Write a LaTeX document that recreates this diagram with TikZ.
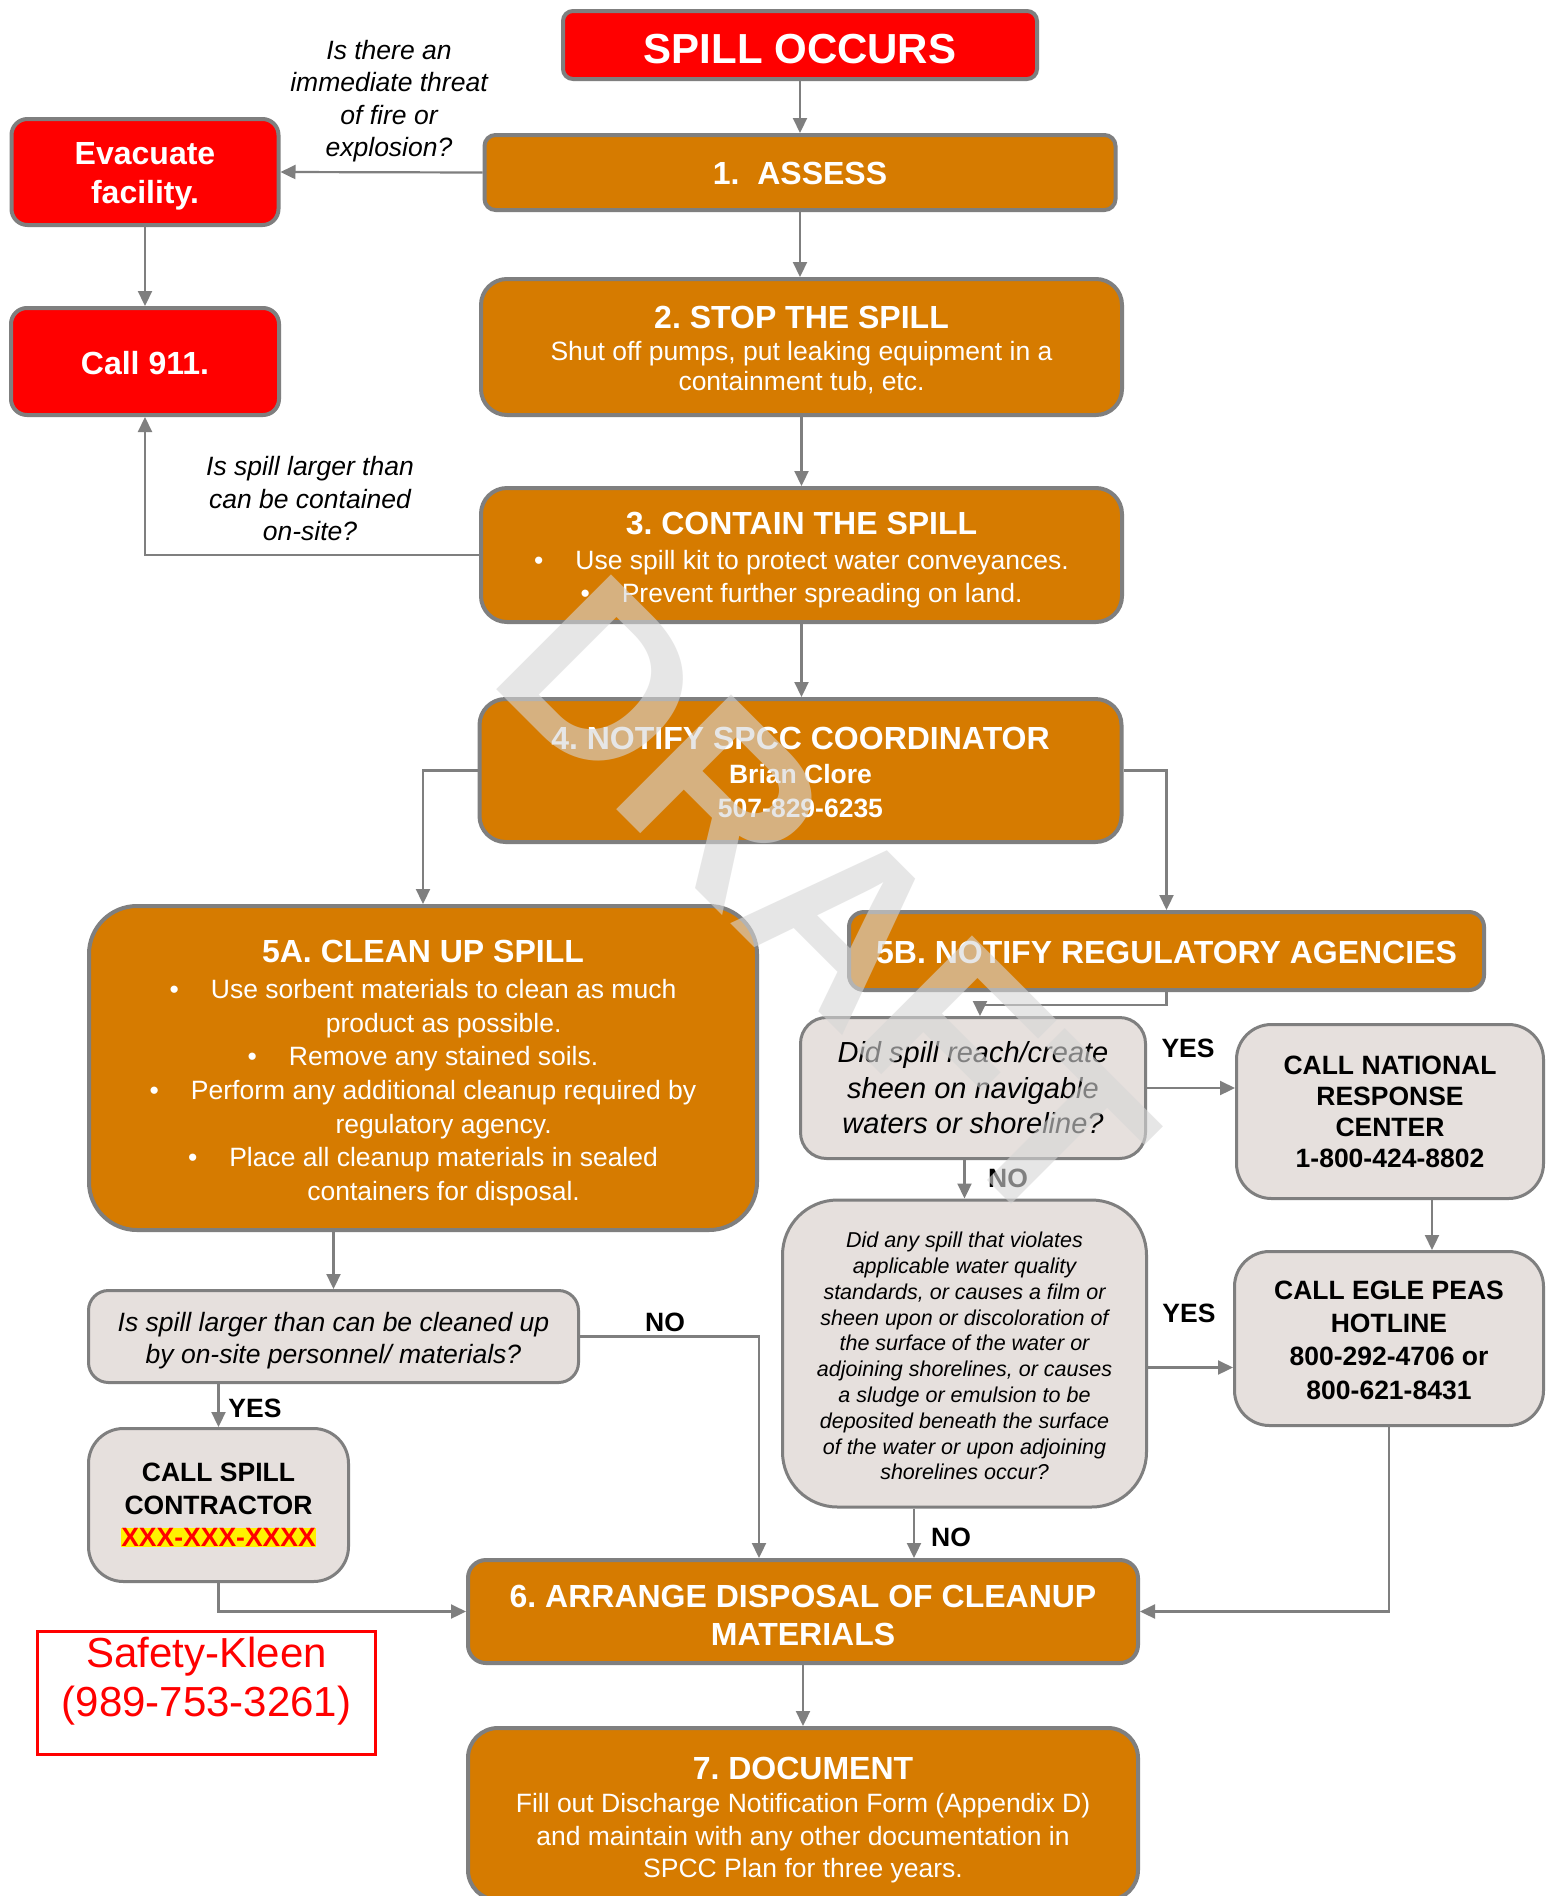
\documentclass[tikz,border=0pt]{standalone}
\usepackage{fontspec}
\setmainfont{Liberation Sans}
\usetikzlibrary{arrows.meta,calc}
\definecolor{orng}{RGB}{214,123,0}
\definecolor{redb}{RGB}{255,0,0}
\definecolor{boxgray}{RGB}{230,224,221}
\definecolor{edge}{RGB}{127,127,127}
\definecolor{wm}{RGB}{214,214,214}
\newcommand{\fs}[2]{\fontsize{#1}{#2}\selectfont}
\newcommand{\bl}[1]{\textbullet\hspace{32pt}#1}
\newcommand{\nb}[1]{\hphantom{\textbullet\hspace{32pt}}#1}
\frenchspacing
\begin{document}
\frenchspacing
\begin{tikzpicture}[x=1pt,y=-1pt,
  obox/.style={draw=edge, line width=4pt, fill=orng, inner sep=0pt},
  rbox/.style={draw=edge, line width=4pt, fill=redb, inner sep=0pt},
  gbox/.style={draw=edge, line width=3pt, fill=boxgray, inner sep=0pt},
  wtxt/.style={text=white, align=center, inner sep=0pt},
  ktxt/.style={text=black, align=center, inner sep=0pt},
  conn/.style={draw=edge, line width=2.2pt, -{Triangle[length=15pt,width=14pt]}},
  lbl/.style={align=center, inner sep=0pt, font=\itshape\fs{26.5}{32.5}},
  yn/.style={inner sep=0pt, font=\bfseries\fs{26.5}{30}},
]
\useasboundingbox (0,0) rectangle (1551,1896);
\fill[white] (0,0) rectangle (1551,1896);

% boxes
\node[rbox, minimum width=474pt, minimum height=68pt, rounded corners=10pt] (spill) at (800,45) {};
\node[wtxt, font=\bfseries\fs{42}{48}] (spill-t) at ($(spill)+(0,4)$) {SPILL OCCURS};

\node[obox, minimum width=631pt, minimum height=75pt, rounded corners=11pt] (assess) at (800,172.5) {};
\node[wtxt, font=\bfseries\fs{32}{38}] (assess-t) at ($(assess)+(0,1)$) {1.\ \ ASSESS};

\node[rbox, minimum width=267pt, minimum height=106pt, rounded corners=16pt] (evac) at (145,172) {};
\node[wtxt, font=\bfseries\fs{32}{39}] (evac-t) at ($(evac)+(0,4)$) {Evacuate\\facility.};

\node[rbox, minimum width=268pt, minimum height=107pt, rounded corners=16pt] (call911) at (145,361.5) {};
\node[wtxt, font=\bfseries\fs{32}{38}] (call911-t) at ($(call911)+(0,2)$) {Call 911.};

\node[obox, minimum width=641pt, minimum height=136pt, rounded corners=26pt] (stop) at (801.5,347) {};
\node[wtxt, font=\fs{26.5}{30}] (stop-t) at ($(stop)+(0,3)$)
  {{\bfseries\fs{32}{38}2. STOP THE SPILL}\\[2.5pt]
   Shut off pumps, put leaking equipment in a\\ containment tub, etc.};

\node[obox, minimum width=641pt, minimum height=134pt, rounded corners=26pt] (contain) at (801.5,555) {};
\node[wtxt, font=\fs{26.5}{33}] (contain-t) at ($(contain)+(0,5)$)
  {{\bfseries\fs{32}{38}3. CONTAIN THE SPILL}\\[2pt]
   \bl{Use spill kit to protect water conveyances.}\\
   \bl{Prevent further spreading on land.}};

\node[obox, minimum width=642pt, minimum height=143pt, rounded corners=26pt] (notify) at (800.5,770.5) {};
\node[wtxt, font=\bfseries\fs{26.5}{34}] (notify-t) at ($(notify)+(0,1.5)$)
  {{\fs{32}{38}4. NOTIFY SPCC COORDINATOR}\\
   Brian Clore\\ 507-829-6235};

\node[obox, minimum width=668pt, minimum height=324pt, rounded corners=48pt] (clean) at (423,1068) {};
\node[wtxt, font=\fs{26.5}{33.7}] (clean-t) at ($(clean)+(0,5)$)
  {{\bfseries\fs{32}{38}5A. CLEAN UP SPILL}\\[2.5pt]
   \bl{Use sorbent materials to clean as much}\\
   \nb{product as possible.}\\
   \bl{Remove any stained soils.}\\
   \bl{Perform any additional cleanup required by}\\
   \nb{regulatory agency.}\\
   \bl{Place all cleanup materials in sealed}\\
   \nb{containers for disposal.}};

\node[obox, minimum width=635pt, minimum height=78pt, rounded corners=15pt] (notreg) at (1166.5,951) {};
\node[wtxt, font=\bfseries\fs{32}{38}] (notreg-t) at ($(notreg)+(0,1)$) {5B. NOTIFY REGULATORY AGENCIES};

\node[gbox, minimum width=345pt, minimum height=141pt, rounded corners=26pt] (didspill) at (973,1088) {};
\node[ktxt, font=\itshape\fs{29}{35.5}] (didspill-t) at ($(didspill)+(0,0)$)
  {Did spill reach/create\\ sheen on navigable\\ waters or shoreline?};

\node[gbox, minimum width=307pt, minimum height=174pt, rounded corners=35pt] (national) at (1390,1111.5) {};
\node[ktxt, font=\bfseries\fs{26.5}{31}] (national-t) at ($(national)+(0,0.5)$)
  {CALL NATIONAL\\ RESPONSE\\ CENTER\\ 1-800-424-8802};

\node[gbox, minimum width=364pt, minimum height=307pt, rounded corners=55pt] (didany) at (964.5,1353.5) {};
\node[ktxt, font=\itshape\fs{21.5}{25.8}] (didany-t) at ($(didany)+(0,2.5)$)
  {Did any spill that violates\\ applicable water quality\\ standards, or causes a film or\\ sheen upon or discoloration of\\
   the surface of the water or\\ adjoining shorelines, or causes\\ a sludge or emulsion to be\\ deposited beneath the surface\\
   of the water or upon adjoining\\ shorelines occur?};

\node[gbox, minimum width=309pt, minimum height=174pt, rounded corners=35pt] (egle) at (1389,1338.5) {};
\node[ktxt, font=\bfseries\fs{26.5}{33.3}] (egle-t) at ($(egle)+(0,1.5)$)
  {CALL EGLE PEAS\\ HOTLINE\\ 800-292-4706 or\\ 800-621-8431};

\node[gbox, minimum width=490pt, minimum height=92pt, rounded corners=20pt] (isspill) at (333.5,1336.5) {};
\node[ktxt, font=\itshape\fs{26.5}{32.7}] (isspill-t) at ($(isspill)+(0,4)$)
  {Is spill larger than can be cleaned up\\ by on-site personnel/ materials?};

\node[gbox, minimum width=260pt, minimum height=153pt, rounded corners=35pt] (callspill) at (218.5,1505) {};
\node[ktxt, font=\bfseries\fs{26.5}{32.5}] (callspill-t) at ($(callspill)+(0,0)$)
  {CALL SPILL\\ CONTRACTOR\\ {\setlength{\fboxsep}{0.5pt}\colorbox{yellow}{\textcolor{redb}{XXX-XXX-XXXX}}}};

\node[draw=redb, line width=3pt, fill=white, minimum width=338pt, minimum height=123pt, inner sep=0pt] (sk) at (206.5,1693) {};
\node[text=redb, align=center, inner sep=0pt, font=\fs{42}{49}] (sk-t) at ($(sk)+(0,-11.5)$) {Safety-Kleen\\ (989-753-3261)};

\node[obox, minimum width=670pt, minimum height=103pt, rounded corners=18pt] (arrange) at (803,1611.5) {};
\node[wtxt, font=\bfseries\fs{32}{38}] (arrange-t) at ($(arrange)+(0,4)$)
  {6. ARRANGE DISPOSAL OF CLEANUP\\ MATERIALS};

\node[obox, minimum width=670pt, minimum height=172pt, rounded corners=30pt] (document) at (803,1814) {};
\node[wtxt, font=\fs{26.5}{32.5}] (document-t) at ($(document)+(0,6)$)
  {{\bfseries\fs{32}{38}7. DOCUMENT}\\[1pt]
   Fill out Discharge Notification Form (Appendix D)\\
   and maintain with any other documentation in\\
   SPCC Plan for three years.};

% helper coordinates
\coordinate (natout) at ([xshift=42pt]national.south);
\coordinate (anyout) at ([yshift=-14pt]didany.east);
\coordinate (arrin1) at ([xshift=-44pt]arrange.north);
\coordinate (arrin2) at ([xshift=111pt]arrange.north);
\coordinate (regin) at ([xshift=7pt]didspill.north);

% connectors
\draw[conn] (spill.south) -- (assess.north);
\draw[conn] (assess.west) -- (evac.east);
\draw[conn] (evac.south) -- (call911.north);
\draw[conn] (assess.south) -- (assess.south |- stop.north);
\draw[conn] (stop.south) -- (contain.north);
\draw[conn] (contain.west) -| (call911.south);
\draw[conn] (contain.south) -- (contain.south |- notify.north);
\draw[conn] (notify.west) -| (clean.north);
\draw[conn] (notify.east) -| (notreg.north);
\draw[conn] (notreg.south) -- ++(0,13) -| (regin);
\draw[conn] (didspill.east) -- (didspill.east -| national.west);
\draw[conn] (didany.north |- didspill.south) -- (didany.north);
\draw[conn] (natout) -- (natout |- egle.north);
\draw[conn] (anyout) -- (anyout -| egle.west);
\draw[conn] (egle.south) |- (arrange.east);
\draw[conn] (isspill.north |- clean.south) -- (isspill.north);
\draw[conn] (isspill.east) -| (arrin1);
\draw[conn] (callspill.north |- isspill.south) -- (callspill.north);
\draw[conn] (callspill.south) |- (arrange.west);
\draw[conn] (arrin2 |- didany.south) -- (arrin2);
\draw[conn] (arrange.south) -- (document.north);

% labels
\node[lbl] (q1) at (389,101) {Is there an\\ immediate threat\\ of fire or\\ explosion?};
\node[lbl] (q2) at (310,499) {Is spill larger than\\ can be contained\\ on-site?};
\node[yn] (yes1) at (1188,1048) {YES};
\node[yn] (yes2) at (1189,1313) {YES};
\node[yn] (no1) at (1008,1178) {NO};
\node[yn] (no2) at (951,1537) {NO};
\node[yn] (no3) at (665,1322) {NO};
\node[yn] (yes3) at (255,1408) {YES};

% watermark
\node[anchor=base west, rotate=-45, inner sep=0pt, font=\bfseries\fs{236}{236}, text=wm, text opacity=0.6] (draft) at (485,678) {DRAFT};
\end{tikzpicture}
\end{document}
